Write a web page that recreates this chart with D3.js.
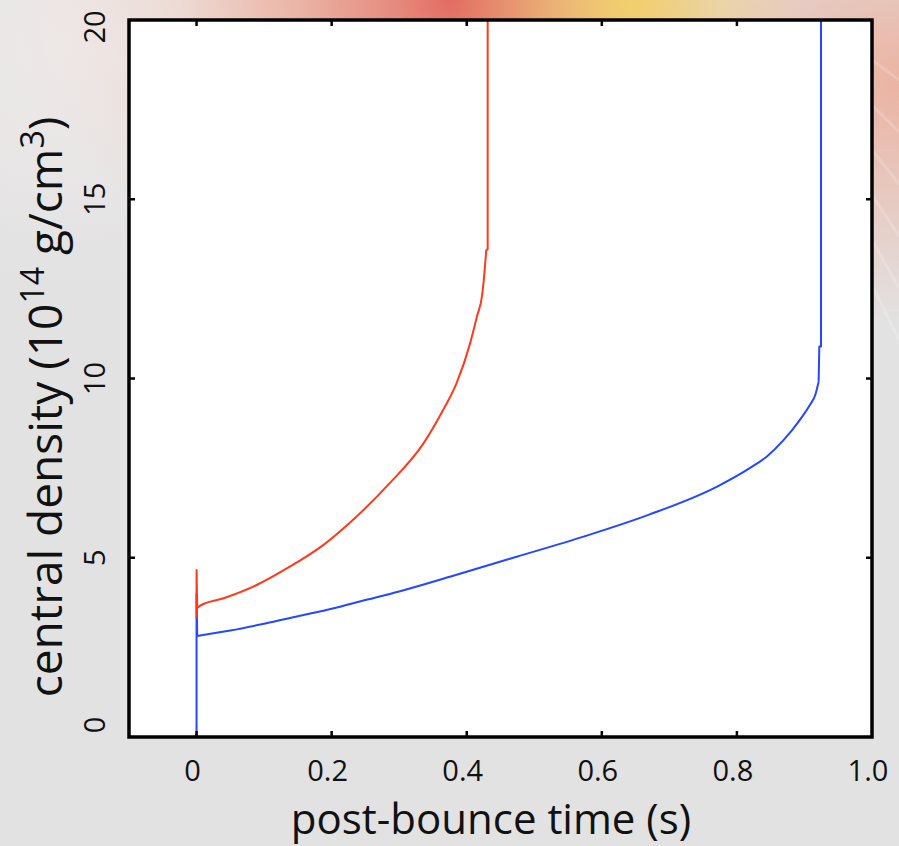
<!DOCTYPE html>
<html>
<head>
<meta charset="utf-8">
<script src="https://cdn.jsdelivr.net/npm/d3@7"></script>
<style>
  body { margin: 0; background: #e3e3e3; }
  svg { display: block; }
  text { font-family: "Open Sans", "DejaVu Sans", sans-serif; fill: #111; }
</style>
</head>
<body>
<svg id="chart"></svg>
<script>
// post-bounce time (s) and central density (10^14 g/cm^3)
const redTime = [0.0, 0.0, 0.001, 0.005, 0.04, 0.089, 0.138, 0.188, 0.237, 0.286, 0.336, 0.365, 0.385, 0.405, 0.415, 0.423, 0.426, 0.429, 0.431, 0.431];
const redDensity = [3.32, 4.66, 3.6, 3.66, 3.87, 4.24, 4.75, 5.36, 6.15, 7.08, 8.19, 9.12, 9.87, 10.98, 11.72, 12.35, 12.9, 13.6, 13.6, 25];

const blueTime = [0.0, 0.0, 0.001, 0.05, 0.1, 0.15, 0.2, 0.25, 0.3, 0.375, 0.449, 0.474, 0.573, 0.671, 0.77, 0.819, 0.844, 0.869, 0.893, 0.908, 0.916, 0.921, 0.922, 0.9245, 0.9245];
const blueDensity = [0, 4.0, 2.82, 2.97, 3.16, 3.37, 3.58, 3.82, 4.06, 4.47, 4.89, 5.03, 5.59, 6.21, 6.98, 7.5, 7.82, 8.28, 8.84, 9.26, 9.54, 9.91, 10.89, 10.89, 25];

const xTicks = [0, 0.2, 0.4, 0.6, 0.8, 1.0];
const xTickLabels = ["0", "0.2", "0.4", "0.6", "0.8", "1.0"];
const yTicks = [0, 5, 10, 15, 20];
const yTickLabels = ["0", "5", "10", "15", "20"];

const width = 899, height = 846;
const margin = { top: 20, right: 27, bottom: 109, left: 129 };
const innerW = width - margin.left - margin.right;
const innerH = height - margin.top - margin.bottom;

const svg = d3.select("#chart").attr("width", width).attr("height", height);
const defs = svg.append("defs");

// blurred photo backdrop: grey with a warm glow along the top
const glows = [
  { id: "g1", cx: 0.5, cy: 0.0, r: 0.3, color: "#e03c32", op: 0.8 },
  { id: "g2", cx: 0.7, cy: 0.0, r: 0.2, color: "#f6d65a", op: 0.8 },
  { id: "g3", cx: 0.3, cy: 0.0, r: 0.28, color: "#f0b49a", op: 0.6 },
  { id: "g4", cx: 1.0, cy: 0.1, r: 0.28, color: "#f09a80", op: 0.65 },
  { id: "g5", cx: 0.08, cy: 0.05, r: 0.3, color: "#f6eeee", op: 0.6 }
];
glows.forEach((gl) => {
  const grad = defs.append("radialGradient").attr("id", gl.id)
    .attr("cx", gl.cx).attr("cy", gl.cy).attr("r", gl.r);
  grad.append("stop").attr("offset", "0%").attr("stop-color", gl.color).attr("stop-opacity", gl.op);
  grad.append("stop").attr("offset", "100%").attr("stop-color", gl.color).attr("stop-opacity", 0);
});

svg.append("rect").attr("width", width).attr("height", height).attr("fill", "#e2e2e2");
glows.forEach((gl) => {
  svg.append("rect").attr("width", width).attr("height", height).attr("fill", `url(#${gl.id})`);
});

// faint light streaks at right
const streaks = svg.append("g").attr("stroke", "#fff").attr("stroke-opacity", 0.18).attr("stroke-width", 3);
[0, 1, 2, 3, 4, 5].forEach((i) => {
  streaks.append("line")
    .attr("x1", 872).attr("y1", 60 + i * 45)
    .attr("x2", 899).attr("y2", 80 + i * 52);
});

defs.append("clipPath").attr("id", "plotClip")
  .append("rect").attr("width", innerW).attr("height", innerH);

const x = d3.scaleLinear().domain([-0.1, 1.0]).range([0, innerW]);
const y = d3.scaleLinear().domain([0, 20]).range([innerH, 0]);

const g = svg.append("g").attr("transform", `translate(${margin.left},${margin.top})`);

g.append("rect").attr("width", innerW).attr("height", innerH).attr("fill", "#fff");

const straight = d3.line().x((d) => x(d[0])).y((d) => y(d[1]));
const smooth = d3.line().x((d) => x(d[0])).y((d) => y(d[1])).curve(d3.curveMonotoneX);

// spikes and the final blow-up are straight, the rising part is smooth
function drawSeries(times, dens, color, smoothFrom, smoothTo) {
  const pts = d3.zip(times, dens);
  const parts = [
    [pts.slice(0, smoothFrom + 1), straight],
    [pts.slice(smoothFrom, smoothTo + 1), smooth],
    [pts.slice(smoothTo), straight]
  ];
  parts.forEach(([seg, gen]) => {
    plot.append("path").datum(seg)
      .attr("fill", "none").attr("stroke", color).attr("stroke-width", 2)
      .attr("stroke-linejoin", "round")
      .attr("d", gen);
  });
}

const plot = g.append("g").attr("clip-path", "url(#plotClip)");
drawSeries(blueTime, blueDensity, "#2447ff", 2, 21);
drawSeries(redTime, redDensity, "#ff3a1c", 2, 17);

// inward ticks on all four sides
const tickLen = 6;
const ticks = g.append("g").attr("stroke", "#000").attr("stroke-width", 2.5);
xTicks.filter((t) => t < 1.0).forEach((t) => {
  ticks.append("line").attr("x1", x(t)).attr("x2", x(t)).attr("y1", innerH).attr("y2", innerH - tickLen);
  ticks.append("line").attr("x1", x(t)).attr("x2", x(t)).attr("y1", 0).attr("y2", tickLen);
});
yTicks.filter((t) => t > 0 && t < 20).forEach((t) => {
  ticks.append("line").attr("y1", y(t)).attr("y2", y(t)).attr("x1", 0).attr("x2", tickLen);
  ticks.append("line").attr("y1", y(t)).attr("y2", y(t)).attr("x1", innerW).attr("x2", innerW - tickLen);
});

g.append("rect").attr("width", innerW).attr("height", innerH)
  .attr("fill", "none").attr("stroke", "#000").attr("stroke-width", 3.5);

// tick labels
g.append("g").selectAll("text").data(xTicks).join("text")
  .attr("x", (d) => x(d) - 4)
  .attr("y", innerH + 44)
  .attr("text-anchor", "middle")
  .attr("font-size", 29)
  .text((d, i) => xTickLabels[i]);

g.append("g").selectAll("text").data(yTicks).join("text")
  .attr("transform", (d) => {
    let yy = y(d);
    if (d === 0) yy -= 12;
    if (d === 20) yy += 7;
    return `translate(${-24},${yy}) rotate(-90)`;
  })
  .attr("text-anchor", "middle")
  .attr("font-size", 29)
  .text((d, i) => yTickLabels[i]);

// axis titles
svg.append("text")
  .attr("x", 491)
  .attr("y", 834)
  .attr("text-anchor", "middle")
  .attr("font-size", 42)
  .text("post-bounce time (s)");

const yTitle = svg.append("text")
  .attr("transform", `translate(62,407) rotate(-90)`)
  .attr("text-anchor", "middle")
  .attr("font-size", 46);
yTitle.append("tspan").text("central density (10");
yTitle.append("tspan").attr("font-size", 32).attr("dy", -18).text("14");
yTitle.append("tspan").attr("dy", 18).text(" g/cm");
yTitle.append("tspan").attr("font-size", 32).attr("dy", -18).text("3");
yTitle.append("tspan").attr("dy", 18).text(")");
</script>
</body>
</html>
